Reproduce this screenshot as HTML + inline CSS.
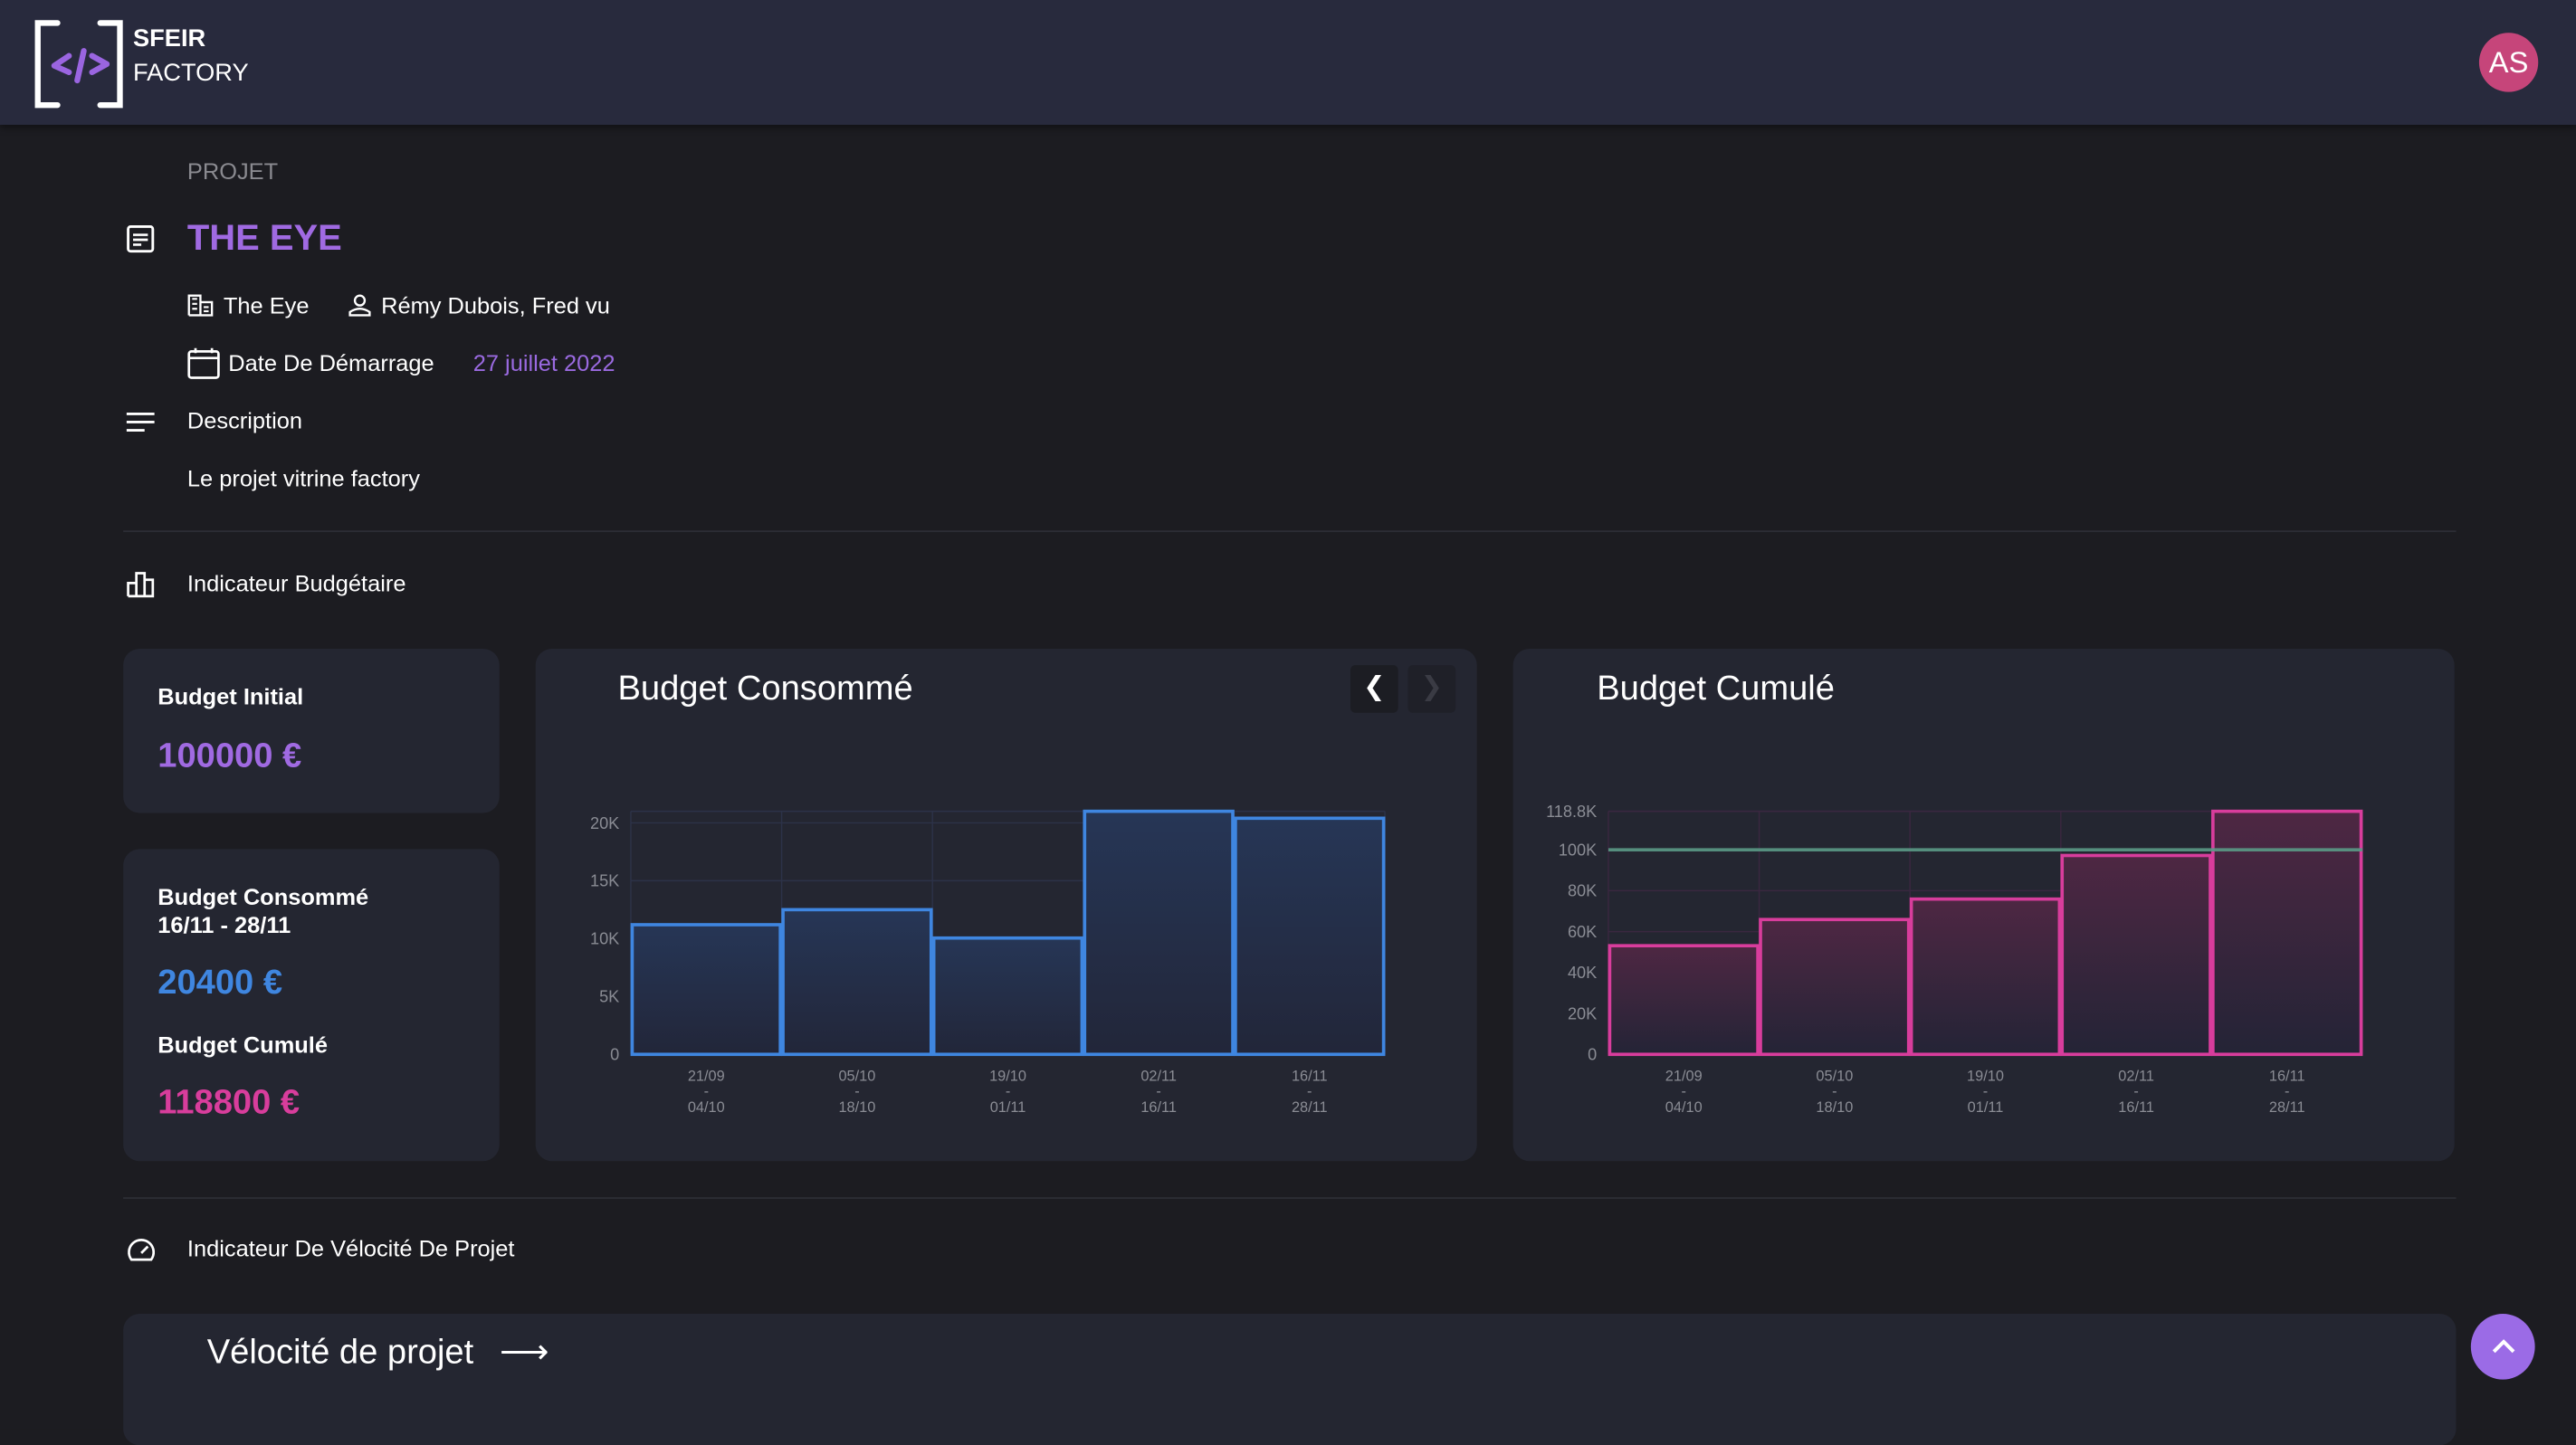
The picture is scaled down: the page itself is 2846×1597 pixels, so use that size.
<!DOCTYPE html>
<html><head><meta charset="utf-8">
<style>
html,body{margin:0;padding:0;background:#1c1c21;overflow:hidden;width:2846px;height:1578px}
#wrap{position:absolute;left:0;top:0;width:1568px;height:870px;transform:scale(1.81505);transform-origin:0 0;font-family:"Liberation Sans",Arial,sans-serif;color:#fff;background:#1c1c21}
.abs{position:absolute}
.card{position:absolute;background:#242631;border-radius:10px}
.t14{font-size:14px;color:#fff}
.hr{position:absolute;height:1px;background:#2c2d35}
</style></head><body>
<div id="wrap">
<div class="abs" style="left:0;top:0;width:1568px;height:76px;background:#282a3d;box-shadow:0 2px 4px rgba(0,0,0,.4)">
  <svg class="abs" style="left:20px;top:12px" width="56" height="54" viewBox="0 0 56 54">
    <path d="M15 2H3V52H15M41 2H53V52H41" fill="none" stroke="#fff" stroke-width="3.5" stroke-linecap="round"/>
    <path d="M22 22L13 28L22 32M36 22L45 27L36 32M31 19L27 37" fill="none" stroke="#9a65e0" stroke-width="3.5" stroke-linecap="round" stroke-linejoin="round"/>
  </svg>
  <div class="abs" style="left:81px;top:15px;font-size:15px;font-weight:bold">SFEIR</div>
  <div class="abs" style="left:81px;top:36px;font-size:15px">FACTORY</div>
  <div class="abs" style="left:1509px;top:20px;width:36px;height:36px;border-radius:50%;background:#c6457a;font-size:18px;line-height:36px;text-align:center">AS</div>
</div>

<div class="abs" style="left:114px;top:96px;font-size:14px;color:#8a8a90">PROJET</div>
<svg class="abs" style="left:77px;top:137px" width="17" height="17" viewBox="0 0 17 17"><rect x="1" y="1" width="15" height="15" rx="1.5" fill="none" stroke="#fff" stroke-width="1.6"/><path d="M4 6H13M4 9H13M4 12H9" stroke="#fff" stroke-width="1.5"/></svg>
<div class="abs" style="left:114px;top:132px;font-size:22px;font-weight:bold;color:#a06ae2">THE EYE</div>

<svg class="abs" style="left:114px;top:179px" width="16" height="14" viewBox="0 0 16 14"><path d="M1 13V1H8V13M8 5H15V13H1" fill="none" stroke="#fff" stroke-width="1.3"/><path d="M3 3H6M3 6H6M3 9H6M10 8H13M10 10.5H13" stroke="#fff" stroke-width="1.2"/></svg>
<div class="abs t14" style="left:136px;top:178px">The Eye</div>
<svg class="abs" style="left:212px;top:179px" width="14" height="14" viewBox="0 0 14 14"><circle cx="7" cy="4" r="3" fill="none" stroke="#fff" stroke-width="1.3"/><path d="M1 13V11Q7 7 13 11V13Z" fill="none" stroke="#fff" stroke-width="1.3"/></svg>
<div class="abs t14" style="left:232px;top:178px">Rémy Dubois, Fred vu</div>
<svg class="abs" style="left:114px;top:211px" width="20" height="20" viewBox="0 0 20 20"><rect x="1" y="3" width="18" height="16" rx="1.5" fill="none" stroke="#fff" stroke-width="1.5"/><path d="M1 7H19M5 1V4M15 1V4" stroke="#fff" stroke-width="1.5"/></svg>
<div class="abs t14" style="left:139px;top:213px">Date De Démarrage</div>
<div class="abs" style="left:288px;top:213px;font-size:14px;color:#9a6ae0">27 juillet 2022</div>
<svg class="abs" style="left:77px;top:250px" width="18" height="14" viewBox="0 0 18 14"><path d="M0 2H17M0 7H17M0 12H11" stroke="#fff" stroke-width="1.6"/></svg>
<div class="abs t14" style="left:114px;top:248px">Description</div>
<div class="abs t14" style="left:114px;top:283px">Le projet vitrine factory</div>

<div class="hr" style="left:75px;top:323px;width:1420px"></div>
<svg class="abs" style="left:77px;top:347px" width="18" height="17" viewBox="0 0 18 17"><path d="M1 16V8H6V16M6 16V2H11V16M11 16V6H16V16H1" fill="none" stroke="#fff" stroke-width="1.5"/></svg>
<div class="abs t14" style="left:114px;top:347px">Indicateur Budgétaire</div>

<div class="card" style="left:75px;top:395px;width:229px;height:100px">
  <div class="abs" style="left:21px;top:21px;font-size:14px;font-weight:bold">Budget Initial</div>
  <div class="abs" style="left:21px;top:54px;font-size:21px;font-weight:bold;color:#a06ae2">100000 €</div>
</div>
<div class="card" style="left:75px;top:517px;width:229px;height:190px">
  <div class="abs" style="left:21px;top:21px;font-size:14px;font-weight:bold;line-height:17px">Budget Consommé<br>16/11 - 28/11</div>
  <div class="abs" style="left:21px;top:70px;font-size:21px;font-weight:bold;color:#3f86e0">20400 €</div>
  <div class="abs" style="left:21px;top:111px;font-size:14px;font-weight:bold">Budget Cumulé</div>
  <div class="abs" style="left:21px;top:143px;font-size:21px;font-weight:bold;color:#d83d9c">118800 €</div>
</div>

<div class="card" style="left:326px;top:395px;width:573px;height:312px">
  <div class="abs" style="left:50px;top:13px;font-size:21px">Budget Consommé</div>
  <div class="abs" style="left:496px;top:10px;width:29px;height:29px;background:#1c1d23;border-radius:3px;text-align:center;line-height:28px;font-size:16px;color:#fff">&#10094;</div>
  <div class="abs" style="left:531px;top:10px;width:29px;height:29px;background:#1f2028;border-radius:3px;text-align:center;line-height:28px;font-size:16px;color:#3a3b44">&#10095;</div>
</div>
<div class="card" style="left:921px;top:395px;width:573px;height:312px">
  <div class="abs" style="left:51px;top:13px;font-size:21px">Budget Cumulé</div>
</div>
<svg id="charts" class="abs" style="left:0;top:0" width="1568" height="869">
  <defs>
    <linearGradient id="gb" x1="0" y1="0" x2="0" y2="1"><stop offset="0" stop-color="#263656"/><stop offset="1" stop-color="#222639"/></linearGradient>
    <linearGradient id="gp" x1="0" y1="0" x2="0" y2="1"><stop offset="0" stop-color="#4e2743"/><stop offset="1" stop-color="#242436"/></linearGradient>
  </defs>
</svg>

<div class="hr" style="left:75px;top:729px;width:1420px"></div>
<svg class="abs" style="left:77px;top:753px" width="18" height="16" viewBox="0 0 18 16"><path d="M3 14A7.5 7.5 0 1 1 15 14Z" fill="none" stroke="#fff" stroke-width="1.5"/><path d="M9 10L13 6" stroke="#fff" stroke-width="1.5"/></svg>
<div class="abs t14" style="left:114px;top:752px">Indicateur De Vélocité De Projet</div>
<div class="card" style="left:75px;top:800px;width:1420px;height:80px">
  <div class="abs" style="left:51px;top:11px;font-size:21px">Vélocité de projet <span style="margin-left:10px">⟶</span></div>
</div>
<div class="abs" style="left:1504px;top:800px;width:39px;height:40px;border-radius:50%;background:#9b6be6;text-align:center">
  <svg width="16" height="10" viewBox="0 0 16 10" style="margin-top:15px"><path d="M2 8L8 2L14 8" fill="none" stroke="#fff" stroke-width="2.2"/></svg>
</div>
</div>
<script>
const periodStart = ["21/09","05/10","19/10","02/11","16/11"];
const periodEnd = ["04/10","18/10","01/11","16/11","28/11"];
const consumedValues = [11200, 12500, 10050, 21000, 20400];
const consumedTicks = [0, 5000, 10000, 15000, 20000];
const consumedTickLabels = ["0","5K","10K","15K","20K"];
const cumulatedValues = [53100, 65900, 75900, 97200, 118800];
const cumulatedTicks = [0, 20000, 40000, 60000, 80000, 100000, 118800];
const cumulatedTickLabels = ["0","20K","40K","60K","80K","100K","118.8K"];
const initialBudget = 100000;

const NS = "http://www.w3.org/2000/svg";
const svg = document.getElementById("charts");
function mk(tag, attrs, parent){const e=document.createElementNS(NS,tag);for(const k in attrs)e.setAttribute(k,attrs[k]);(parent||svg).appendChild(e);return e;}

function drawChart(cfg){
  const {x0,x1,y0,y1,max,values,ticks,labels,stroke,fill,grid,name} = cfg;
  const n = values.length, bw = (x1-x0)/n;
  const xs = i => x0 + i*bw;
  const ys = v => y1 - (v/max)*(y1-y0);
  const g = mk("g",{});
  
  
  for(let i=0;i<=n;i++) mk("line",{x1:xs(i),x2:xs(i),y1:y0,y2:y1,stroke:grid,"stroke-width":0.8},g);
  mk("line",{x1:x0,x2:x1,y1:y0,y2:y0,stroke:grid,"stroke-width":0.8},g);
  ticks.forEach((t,i)=>{
    mk("line",{x1:x0,x2:x1,y1:ys(t),y2:ys(t),stroke:grid,"stroke-width":0.8},g);
    const tx = mk("text",{x:x0-7,y:ys(t)+3.5,"text-anchor":"end","font-size":10,fill:"#8a8c94","font-family":"Liberation Sans, Arial, sans-serif"},g);
    tx.textContent = labels[i];
    
    
  });
  values.forEach((v,i)=>{
    const r = mk("rect",{x:xs(i)+0.8,y:ys(v),width:bw-1.6,height:y1-ys(v),fill:fill,stroke:stroke,"stroke-width":2},g);
    
    
    const cx = xs(i)+bw/2;
    [periodStart[i],"-",periodEnd[i]].forEach((s,j)=>{
      const t = mk("text",{x:cx,y:y1+16+j*9.5,"text-anchor":"middle","font-size":9,fill:"#8a8c94","font-family":"Liberation Sans, Arial, sans-serif"},g);
      t.textContent = s;
      
      
    });
  });
  return {xs,ys};
}
drawChart({x0:384,x1:843,y0:494,y1:642,max:21000,values:consumedValues,ticks:consumedTicks,labels:consumedTickLabels,stroke:"#3f86e0",fill:"url(#gb)",grid:"#2c3248",name:"consumed"});
const c2 = drawChart({x0:979,x1:1438,y0:494,y1:642,max:118800,values:cumulatedValues,ticks:cumulatedTicks,labels:cumulatedTickLabels,stroke:"#d83d9c",fill:"url(#gp)",grid:"#3a2740",name:"cumulated"});
const bl = mk("line",{x1:979,x2:1438,y1:c2.ys(initialBudget),y2:c2.ys(initialBudget),stroke:"#5a9a86","stroke-width":2,opacity:0.9});


</script>
</body></html>
